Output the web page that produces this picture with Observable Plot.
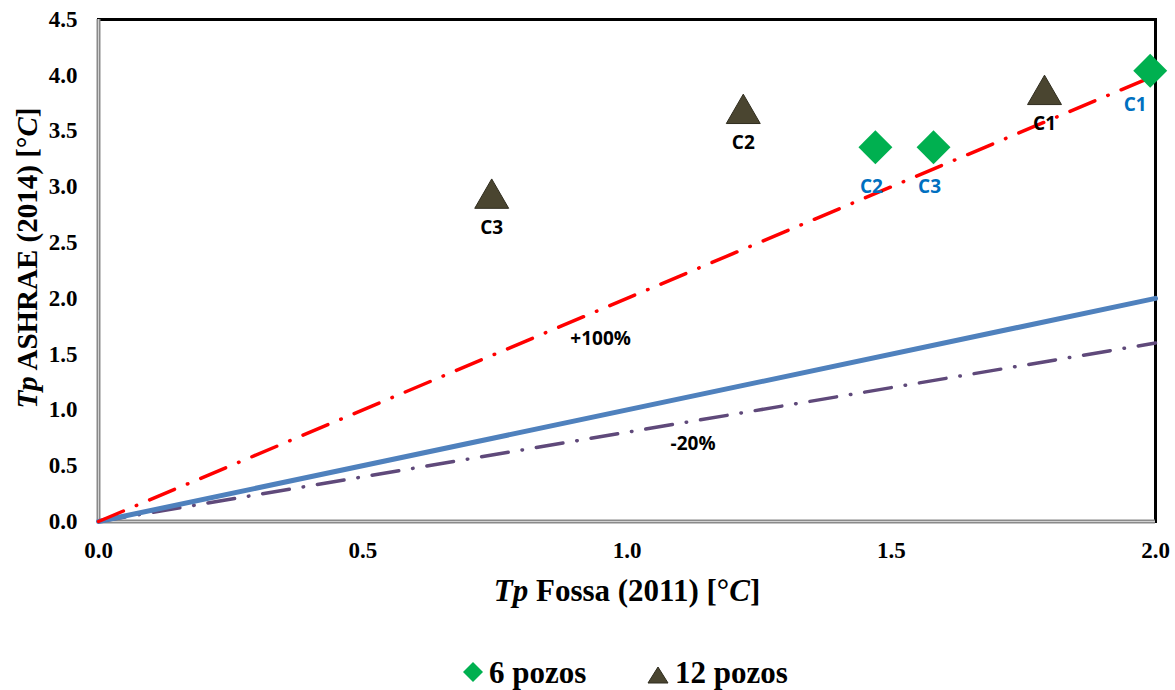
<!DOCTYPE html>
<html>
<head>
<meta charset="utf-8">
<script src="https://cdn.jsdelivr.net/npm/d3@7"></script>
<script src="https://cdn.jsdelivr.net/npm/@observablehq/plot@0.6"></script>
<style>
  html, body { margin: 0; padding: 0; background: #fff; }
  #chart { position: relative; width: 1175px; height: 690px; }
  #chart svg { display: block; }
  #legend { position: absolute; left: 0; top: 625px; }
</style>
</head>
<body>
<div id="chart"></div>
<script>
// Cases evaluated with 6 and 12 boreholes
const casos = ["C1", "C2", "C3"];
const fossa6 = [1.99, 1.47, 1.58];
const ashrae6 = [4.04, 3.355, 3.355];
const fossa12 = [1.79, 1.22, 0.744];
const ashrae12 = [3.87, 3.70, 2.94];

// Reference lines: y = factor * x
const refX = [0, 2];
const refNames = ["+100%", "0%", "-20%"];
const refFactors = [2, 1, 0.8];

// Axis ticks
const xTicks = [0, 0.5, 1.0, 1.5, 2.0];
const yTicks = [0, 0.5, 1.0, 1.5, 2.0, 2.5, 3.0, 3.5, 4.0, 4.5];

// Labels of the reference lines
const annText = ["+100%", "-20%"];
const annX = [0.95, 1.125];
const annY = [1.64, 0.70];

// Legend entries
const legendNames = ["6 pozos", "12 pozos"];

const green = "#00B050";
const olive = "#4A4530";
const labelBlue = "#0070C0";
const serif = "'Liberation Serif', 'Times New Roman', serif";
const sans = "'Open Sans', Lato, sans-serif";

const pozos6 = casos.map((c, i) => ({caso: c, x: fossa6[i], y: ashrae6[i]}));
const pozos12 = casos.map((c, i) => ({caso: c, x: fossa12[i], y: ashrae12[i]}));
const refLine = (k) => refX.map(x => ({x, y: refFactors[k] * x}));
const ann = annText.map((t, i) => ({t, x: annX[i], y: annY[i]}));

const plot = Plot.plot({
  width: 1175,
  height: 625,
  marginLeft: 98,
  marginRight: 20,
  marginTop: 19,
  marginBottom: 104,
  style: {fontFamily: serif, fontSize: "23px", fontWeight: "bold", color: "#000", overflow: "visible"},
  x: {domain: [0, 2]},
  y: {domain: [0, 4.5]},
  marks: [
    Plot.axisX({ticks: xTicks, tickFormat: d3.format(".1f"), tickSize: 0, tickPadding: 20, label: null}),
    Plot.axisY({ticks: yTicks, tickFormat: d3.format(".1f"), tickSize: 0, tickPadding: 21, label: null}),
    // Plot border: black top and right, grey axes on the left and bottom
    Plot.frame({stroke: "#000", strokeWidth: 3}),
    Plot.ruleX([0], {stroke: "#8a8a8a", strokeWidth: 4}),
    Plot.ruleX([0], {stroke: "#d0d0d0", strokeWidth: 1}),
    Plot.ruleY([0], {stroke: "#8a8a8a", strokeWidth: 4}),
    Plot.ruleY([0], {stroke: "#d0d0d0", strokeWidth: 1}),
    // Reference lines
    Plot.line(refLine(2), {x: "x", y: "y", stroke: "#5F497A", strokeWidth: 3.5, strokeDasharray: "27,14,0.5,14", strokeLinecap: "round"}),
    Plot.line(refLine(1), {x: "x", y: "y", stroke: "#4F81BD", strokeWidth: 5}),
    Plot.line(refLine(0), {x: "x", y: "y", stroke: "#FF0000", strokeWidth: 3.5, strokeDasharray: "27,14,0.5,14", strokeLinecap: "round"}),
    // Points
    Plot.dot(pozos12, {x: "x", y: "y", symbol: "triangle", r: 12.6, dy: 5, fill: olive, stroke: "#2f2c1e", strokeWidth: 1}),
    Plot.dot(pozos6, {x: "x", y: "y", symbol: "diamond2", r: 15.3, fill: green}),
    // Point labels
    Plot.text(pozos12, {x: "x", y: "y", text: "caso", dy: 34, fill: "#000", fontFamily: sans, fontSize: 19, fontWeight: "bold"}),
    Plot.text(pozos6.filter(d => d.caso !== "C1"), {x: "x", y: "y", text: "caso", dy: 40, dx: -4, fill: labelBlue, fontFamily: sans, fontSize: 19, fontWeight: "bold"}),
    Plot.text(pozos6.filter(d => d.caso === "C1"), {x: "x", y: "y", text: "caso", dy: 34, dx: -15, fill: labelBlue, fontFamily: sans, fontSize: 19, fontWeight: "bold"}),
    // Reference-line labels
    Plot.text(ann, {x: "x", y: "y", text: "t", fill: "#000", fontFamily: sans, fontSize: 19, fontWeight: "bold"})
  ]
});

document.getElementById("chart").appendChild(plot);

// Axis titles with italic symbol parts
const svg = d3.select(plot);
function title(sel, parts) {
  parts.forEach(([t, italic]) => {
    sel.append("tspan").attr("font-style", italic ? "italic" : "normal").text(t);
  });
}
const xt = svg.append("text")
  .attr("x", 627).attr("y", 601)
  .attr("text-anchor", "middle")
  .attr("font-size", 31).attr("font-weight", "bold")
  .attr("font-family", serif);
title(xt, [["Tp", true], [" Fossa (2011) [°", false], ["C", true], ["]", false]]);

const yt = svg.append("text")
  .attr("transform", "translate(37,258) rotate(-90)")
  .attr("text-anchor", "middle")
  .attr("font-size", 29).attr("font-weight", "bold")
  .attr("font-family", serif);
title(yt, [["Tp", true], [" ASHRAE (2014) [°", false], ["C", true], ["]", false]]);

// Legend below the chart
const legend = d3.select("#chart").append("svg")
  .attr("id", "legend").attr("width", 1175).attr("height", 65)
  .attr("font-family", serif).attr("font-weight", "bold").attr("font-size", 31);
const g1 = legend.append("g").attr("transform", "translate(473,47)");
g1.append("path").attr("d", "M0,-10L10,0L0,10L-10,0Z").attr("fill", green);
g1.append("text").attr("x", 16).attr("y", 11).text(legendNames[0]);
const g2 = legend.append("g").attr("transform", "translate(658,47)");
g2.append("path").attr("d", "M0,-5L10,11L-10,11Z").attr("fill", olive).attr("stroke", "#2f2c1e").attr("stroke-width", 1);
g2.append("text").attr("x", 17).attr("y", 11).text(legendNames[1]);
</script>
</body>
</html>
